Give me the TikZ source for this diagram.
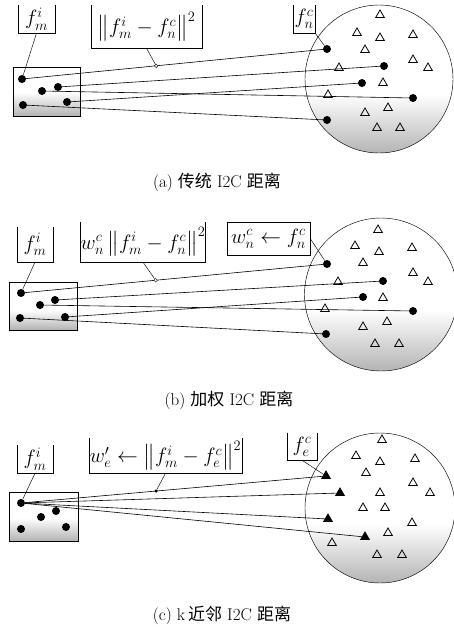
\documentclass[tikz,border=0pt]{standalone}
\usepackage{amsmath}
\usepackage{fontspec}
\newfontfamily\cjk{Noto Sans CJK SC}
\usetikzlibrary{shapes.geometric,calc}

\begin{document}
\begin{tikzpicture}[x=1pt,y=-1pt,
		dot/.style={circle, fill, inner sep=0pt, minimum size=8pt},
		tri/.style={draw, regular polygon, regular polygon sides=3, inner sep=0pt, minimum size=10pt, line width=0.8pt},
		ftri/.style={tri, fill},
		lbl/.style={inner sep=0pt, font=\huge},
		link/.style={line width=0.6pt},
		lead/.style={line width=0.45pt},
		jct/.style={circle, draw, fill=white, inner sep=0pt, minimum size=3.5pt},
		jdot/.style={circle, fill, inner sep=0pt, minimum size=3.5pt},
		shd/.style={top color=white, bottom color=black!30},
		captext/.style={font=\fontsize{17}{20}\selectfont}]
		\useasboundingbox (0,0) rectangle (453,627);

		% Shading
		\shade[shd] (13,92) rectangle (80,116);
		\shade[shd] (9,310) rectangle (77,330);
		\shade[shd] (9,518) rectangle (78,541);
		\begin{scope}
			\clip (379,79) circle[radius=74pt];
			\shade[shd] (300,94) rectangle (460,155);
		\end{scope}
		\begin{scope}
			\clip (381,294.5) circle[radius=76.5pt];
			\shade[shd] (300,310) rectangle (460,372);
		\end{scope}
		\begin{scope}
			\clip (380,508) circle[radius=75pt];
			\shade[shd] (300,524) rectangle (460,584);
		\end{scope}

		% Outlines
		\draw[lead] (13,67) rectangle (80,116);
		\draw[lead] (9,282) rectangle (77,330);
		\draw[lead] (9,492) rectangle (78,541);
		\draw[lead] (379,79) circle[radius=74pt];
		\draw[lead] (381,294.5) circle[radius=76.5pt];
		\draw[lead] (380,508) circle[radius=75pt];

		% Labels
		\node[lbl, minimum width=37pt, minimum height=28pt] (fmiA) at (36.5,19) {$f_m^i$};
		\node[lbl, minimum width=111pt, minimum height=43pt] (nrmA) at (146.5,26.5) {$\left\|f_m^i-f_n^c\right\|^2$};
		\node[lbl, minimum width=22pt, minimum height=28pt] (fncA) at (304,19) {$f_n^c$};
		\node[lbl, minimum width=36pt, minimum height=35pt] (fmiB) at (35,244.5) {$f_m^i$};
		\node[lbl, minimum width=108pt, minimum height=40pt] (nrmB) at (143,242) {$w_n^c\left\|f_m^i-f_n^c\right\|^2$};
		\node[lbl, draw, line width=0.45pt, minimum width=83pt, minimum height=33pt] (wgtB) at (268.5,238.5) {$w_n^c\leftarrow f_n^c$};
		\node[lbl, minimum width=36pt, minimum height=28pt] (fmiC) at (35,459) {$f_m^i$};
		\node[lbl, minimum width=153pt, minimum height=35pt] (nrmC) at (165.5,455.5) {$w'_e\leftarrow\left\|f_m^i-f_e^c\right\|^2$};
		\node[lbl, minimum width=30pt, minimum height=27pt] (fecC) at (302,446.5) {$f_e^c$};
		\foreach \b in {fmiA,nrmA,fncA,fmiB,nrmB,fmiC,nrmC,fecC}
		\draw[lead] (\b.north west) -- (\b.south west) -- (\b.south east) -- (\b.north east);

		% Triangles
		\foreach \x/\y in {380/15, 357/33, 380/38, 413/35, 365/50, 413/60, 428/68, 339/68, 383/83, 328/95, 388/108, 365/113, 377/128, 400/128}
		\node[tri] at (\x,\y) {};
		\foreach \x/\y in {378/230, 355/246, 379/252, 412/248, 363/263, 413/273, 428/282, 338/282, 383/298, 325/309, 387/322, 363/327, 375/344, 399/344}
		\node[tri] at (\x,\y) {};
		\foreach \x/\y in {382/440, 356/456, 380/462, 415/459, 366/473, 413/483, 430/493, 380/493, 363/508, 385/508, 412/523, 388/533, 332/543, 377/555, 402/555}
		\node[tri] at (\x,\y) {};

		% Nodes
		\foreach \x/\y [count=\i] in {22/79, 58/87, 42/91, 67/102, 23/105}
		\node[dot] (pA\i) at (\x,\y) {};
		\foreach \x/\y [count=\i] in {327/49, 384/66, 362/83, 413/98, 327/120}
		\node[dot] (qA\i) at (\x,\y) {};
		\foreach \x/\y [count=\i] in {21/293, 55/300, 40/305, 65/317, 20/318}
		\node[dot] (pB\i) at (\x,\y) {};
		\foreach \x/\y [count=\i] in {327/264, 383/281, 363/297, 413/311, 326/334}
		\node[dot] (qB\i) at (\x,\y) {};
		\foreach \x/\y [count=\i] in {21/503, 56/511, 41/517, 66/527, 21/529}
		\node[dot] (pC\i) at (\x,\y) {};
		\foreach \x/\y [count=\i] in {326/476, 340/493, 328/519, 365/537}
		\node[ftri] (tC\i) at (\x,\y) {};

		% Edges
		\foreach \i/\j in {1/1, 2/2, 3/4, 4/3, 5/5}
			{
				\draw[link] (pA\i) -- (qA\j);
				\draw[link] (pB\i) -- (qB\j);
			}
		\foreach \j in {1,2,3,4}
		\draw[link] (pC1) -- (tC\j);

		% Leaders
		\node[jct] (jA) at ($(pA1)!0.44!(qA1)$) {};
		\node[jct] (jB) at ($(pB1)!0.44!(qB1)$) {};
		\node[jdot] (jC) at ($(pC1)!0.443!(tC1)$) {};
		\draw[lead] (fmiA.south) -- (pA1);
		\draw[lead] (nrmA.south) -- (jA);
		\draw[lead] (fncA.south east) -- (qA1);
		\draw[lead] (fmiB.south) -- (pB1);
		\draw[lead] (nrmB.south) -- (jB);
		\draw[lead] (wgtB.east) -- (qB1);
		\draw[lead] (fmiC.south) -- (pC1);
		\draw[lead] (nrmC.south) -- (jC);
		\draw[lead] (fecC.south) -- (tC1);

		% Captions
		\node[captext] (capA) at (217,182) {(a)\ {\cjk 传统} I2C {\cjk 距离}};
		\node[captext] (capB) at (229,400) {(b)\ {\cjk 加权} I2C {\cjk 距离}};
		\node[captext] (capC) at (222,615) {(c)\ k\,{\cjk 近邻} I2C {\cjk 距离}};
	\end{tikzpicture}
\end{document}
